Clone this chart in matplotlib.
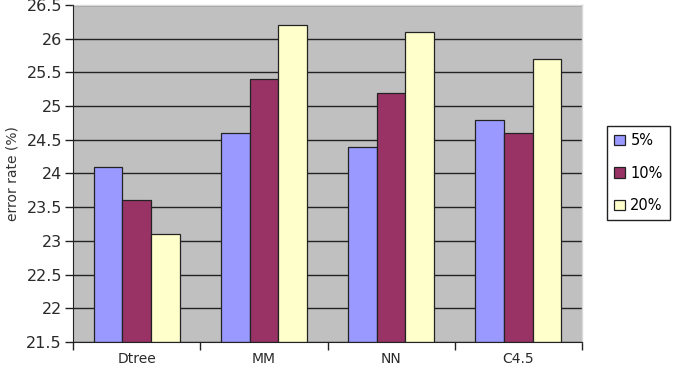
import matplotlib
matplotlib.use('Agg')
import matplotlib.pyplot as plt
import numpy as np

categories = ['Dtree', 'MM', 'NN', 'C4.5']
series_names = ['5%', '10%', '20%']
rate_5 = [24.1, 24.6, 24.4, 24.8]
rate_10 = [23.6, 25.4, 25.2, 24.6]
rate_20 = [23.1, 26.2, 26.1, 25.7]
yticks = [21.5, 22, 22.5, 23, 23.5, 24, 24.5, 25, 25.5, 26, 26.5]
colors = ['#9999ff', '#993366', '#ffffcc']

fig = plt.figure(figsize=(6.88, 3.92), dpi=100)
ax = fig.add_axes([73/688, 1 - 342/392, (582 - 73)/688, (342 - 5)/392])
ax.set_facecolor('#c0c0c0')

x = np.arange(len(categories))
w = 0.225
base = yticks[0]
for i, (vals, c, name) in enumerate(zip([rate_5, rate_10, rate_20], colors, series_names)):
    heights = [v - base for v in vals]
    ax.bar(x + (i - 1) * w, heights, w, bottom=base, color=c, edgecolor='#222222',
           linewidth=0.9, label=name, zorder=3)

ax.set_xlim(-0.5, len(categories) - 0.5)
ax.set_ylim(yticks[0], yticks[-1])
ax.set_yticks(yticks)
ax.set_yticklabels([('%g' % t) for t in yticks], fontsize=11.5, color='#2a2a2a')
ax.yaxis.grid(True, color='#222222', linewidth=1.0, zorder=1)

# category labels centred, tick marks between groups
ax.set_xticks(x)
ax.set_xticklabels(categories, fontsize=10, color='#2a2a2a')
ax.tick_params(axis='x', length=0, pad=7)
ax.set_xticks(np.arange(-0.5, len(categories)), minor=True)
ax.tick_params(axis='x', which='minor', length=6, width=1, color='#222222', direction='out')
ax.tick_params(axis='y', length=6, width=1, color='#222222', direction='out', pad=2)

for s in ['top', 'right']:
    ax.spines[s].set_color('#d8d8d8')
    ax.spines[s].set_linewidth(1.0)
ax.spines['left'].set_color('#222222')
ax.spines['bottom'].set_color('#222222')
ax.spines['left'].set_zorder(4)
ax.spines['bottom'].set_zorder(4)

ax.set_ylabel('error rate (%)', fontsize=10, color='#333333', labelpad=5)

leg = fig.legend(loc='center left', bbox_to_anchor=(607/688, 1 - 173/392),
                 fontsize=10.5, handlelength=0.7, handleheight=0.7, labelspacing=1.2,
                 handletextpad=0.4, borderpad=0.5, fancybox=False, framealpha=1,
                 edgecolor='#222222', borderaxespad=0)
leg.get_frame().set_linewidth(1.0)

fig.savefig('out.png', dpi=100)
